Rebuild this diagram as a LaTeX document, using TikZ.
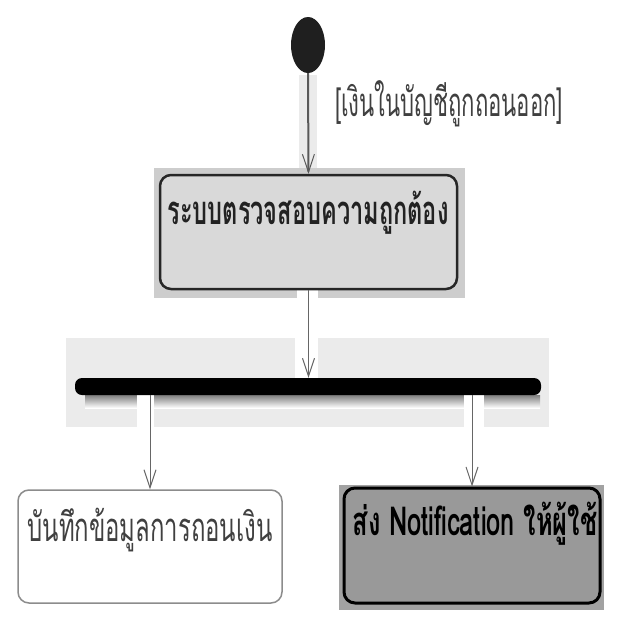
\documentclass[tikz,border=0pt]{standalone}
\usepackage{fontspec}
\newfontfamily\thai[Script=Thai]{Loma}
\usetikzlibrary{arrows.meta,shapes.geometric}
\definecolor{hl}{HTML}{EBEBEB}
\definecolor{shade}{HTML}{E3E3E3}
\definecolor{boxbg}{HTML}{CDCDCD}
\definecolor{boxfill}{HTML}{D9D9D9}
\definecolor{darkbg}{HTML}{A2A2A2}
\definecolor{darkfill}{HTML}{999999}
\definecolor{txt}{HTML}{222222}
\tikzset{
  arr/.style={draw=gray!80!black, line width=1pt, -{Straight Barb[length=18pt,width=12pt,line width=1pt]}},
  actbox/.style={rectangle, rounded corners=11pt, inner sep=0pt},
  lbl/.style={inner sep=0pt, text=txt, font=\fontsize{40}{46}\selectfont\thai},
}
\begin{document}
\begin{tikzpicture}[x=1pt,y=-1pt]
\useasboundingbox (0,0) rectangle (640,640);
\fill[white] (0,0) rectangle (640,640);
% highlight backgrounds
\fill[hl] (66,338) rectangle (549,427);
\fill[shade] (85,395) rectangle (540,408);
\fill[white] (295,338) rectangle (318,378);
\fill[white] (137,395) rectangle (154,427);
\fill[white] (464,395) rectangle (484,427);
\fill[hl] (299,75) rectangle (317,168);
\fill[boxbg] (154,168) rectangle (465,298);
\fill[white] (297,290) rectangle (318,298);
\fill[darkbg] (339,485) rectangle (604,610);
% initial node
\node[ellipse, fill=black!88, minimum width=34pt, minimum height=56pt, inner sep=0pt] (init) at (308,45) {};
% activity boxes
\node[actbox, draw=black!85, line width=2.5pt, fill=boxfill, minimum width=297pt, minimum height=114pt] (box1) at (308.5,232) {};
\node[lbl, font=\fontsize{40}{46}\selectfont\thai\bfseries] (t1) at (308,213) {\resizebox{281pt}{\height}{ระบบตรวจสอบความถูกต้อง}};
\node[rectangle, fill=black, rounded corners=7pt, minimum width=466pt, minimum height=17pt, inner sep=0pt] (bar) at (308,386.5) {};
\node[actbox, draw=black!45, line width=1.5pt, fill=white, minimum width=264pt, minimum height=113pt] (lbox) at (150,546.5) {};
\node[lbl, text=black!75] (t2) at (150,530) {\resizebox{245pt}{\height}{บันทึกข้อมูลการถอนเงิน}};
\node[actbox, draw=black, line width=3pt, fill=darkfill, minimum width=256pt, minimum height=115pt] (rbox) at (472,545.5) {};
\node[lbl, text=black, font=\fontsize{40}{46}\selectfont\thai\bfseries] (t3) at (475,524) {\resizebox{245pt}{\height}{ส่ง Notification ให้ผู้ใช้}};
% guard label
\node[lbl, text=black!75] (lab) at (449,104) {\resizebox{228pt}{\height}{[เงินในบัญชีถูกถอนออก]}};
% connectors
\draw[arr, draw=black!65, line width=2pt] (init.south) -- (box1.north);
\draw[arr] (box1.south) -- (bar.north -| box1.south);
\draw[arr] (bar.south -| lbox.north) -- (lbox.north);
\draw[arr] (bar.south -| rbox.north) -- (rbox.north);
\end{tikzpicture}
\end{document}
